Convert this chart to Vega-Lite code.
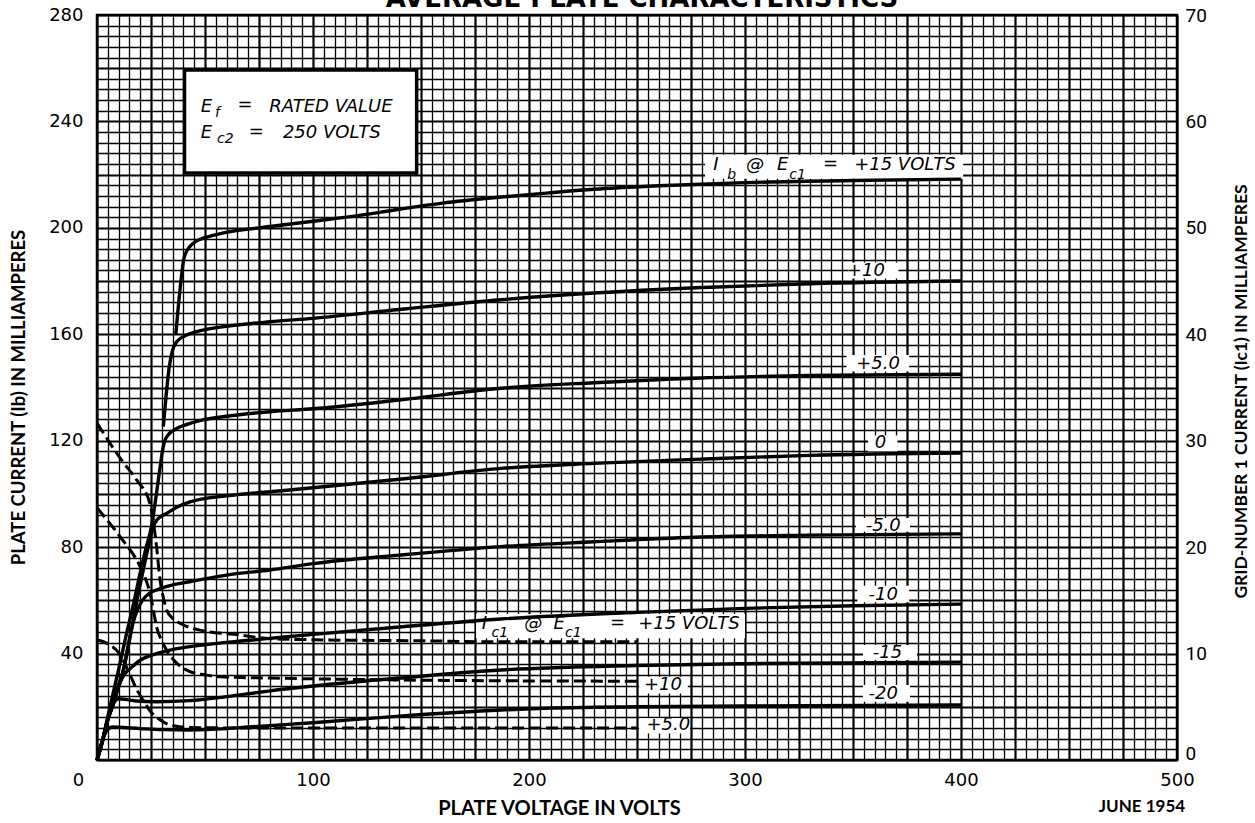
{
  "$schema": "https://vega.github.io/schema/vega-lite/v6.json",
  "width": 1080,
  "height": 745,
  "autosize": {"type": "none"},
  "padding": {"left": 97, "top": 15, "right": 78, "bottom": 63},
  "background": "white",
  "config": {
    "view": {"stroke": "black", "strokeWidth": 2.5},
    "axis": {"labelColor": "black", "titleColor": "black"}
  },
  "datasets": {
    "plate": [
      {"s": "+15", "v": 36.5, "i": 160}, {"s": "+15", "v": 38.4, "i": 176.6}, {"s": "+15", "v": 40.4, "i": 189}, {"s": "+15", "v": 43, "i": 193}, {"s": "+15", "v": 46, "i": 195}, {"s": "+15", "v": 50, "i": 196.3}, {"s": "+15", "v": 58, "i": 198}, {"s": "+15", "v": 70, "i": 199.5}, {"s": "+15", "v": 80, "i": 200.5}, {"s": "+15", "v": 100, "i": 202.5}, {"s": "+15", "v": 120, "i": 204.5}, {"s": "+15", "v": 140, "i": 207}, {"s": "+15", "v": 160, "i": 209.3}, {"s": "+15", "v": 186, "i": 211.5}, {"s": "+15", "v": 210, "i": 213.2}, {"s": "+15", "v": 230, "i": 214.5}, {"s": "+15", "v": 260, "i": 215.8}, {"s": "+15", "v": 300, "i": 217}, {"s": "+15", "v": 350, "i": 217.8}, {"s": "+15", "v": 400, "i": 218.3},
      {"s": "+10", "v": 30.7, "i": 125.3}, {"s": "+10", "v": 32, "i": 137}, {"s": "+10", "v": 33.5, "i": 148}, {"s": "+10", "v": 35, "i": 154}, {"s": "+10", "v": 37, "i": 157.3}, {"s": "+10", "v": 41.5, "i": 159.7}, {"s": "+10", "v": 49, "i": 161.6}, {"s": "+10", "v": 60, "i": 163}, {"s": "+10", "v": 80, "i": 164.7}, {"s": "+10", "v": 100, "i": 166}, {"s": "+10", "v": 140, "i": 169.3}, {"s": "+10", "v": 187, "i": 173}, {"s": "+10", "v": 230, "i": 175.5}, {"s": "+10", "v": 277, "i": 177.5}, {"s": "+10", "v": 330, "i": 179}, {"s": "+10", "v": 400, "i": 180},
      {"s": "+5", "v": 0, "i": 0}, {"s": "+5", "v": 3, "i": 9}, {"s": "+5", "v": 6, "i": 20}, {"s": "+5", "v": 10, "i": 34}, {"s": "+5", "v": 13.7, "i": 47.6}, {"s": "+5", "v": 17, "i": 59}, {"s": "+5", "v": 19.9, "i": 70}, {"s": "+5", "v": 22.5, "i": 79}, {"s": "+5", "v": 25.3, "i": 88}, {"s": "+5", "v": 27.5, "i": 100}, {"s": "+5", "v": 29.2, "i": 110}, {"s": "+5", "v": 30.5, "i": 117}, {"s": "+5", "v": 32.3, "i": 121.5}, {"s": "+5", "v": 36.9, "i": 124.6}, {"s": "+5", "v": 42, "i": 126.2}, {"s": "+5", "v": 49, "i": 127.8}, {"s": "+5", "v": 60, "i": 129.2}, {"s": "+5", "v": 80, "i": 130.9}, {"s": "+5", "v": 100, "i": 132}, {"s": "+5", "v": 140, "i": 135.3}, {"s": "+5", "v": 187, "i": 139.7}, {"s": "+5", "v": 230, "i": 141.8}, {"s": "+5", "v": 277, "i": 143.5}, {"s": "+5", "v": 330, "i": 144.5}, {"s": "+5", "v": 400, "i": 145},
      {"s": "0", "v": 0, "i": 0}, {"s": "0", "v": 2.5, "i": 7}, {"s": "0", "v": 4.5, "i": 13.8}, {"s": "0", "v": 7.6, "i": 21.3}, {"s": "0", "v": 10, "i": 28}, {"s": "0", "v": 12.2, "i": 33.8}, {"s": "0", "v": 14.5, "i": 43}, {"s": "0", "v": 16.8, "i": 52.6}, {"s": "0", "v": 19, "i": 62}, {"s": "0", "v": 21.4, "i": 71.4}, {"s": "0", "v": 24, "i": 81}, {"s": "0", "v": 26, "i": 87.7}, {"s": "0", "v": 28, "i": 90.5}, {"s": "0", "v": 32.3, "i": 92.7}, {"s": "0", "v": 37, "i": 95}, {"s": "0", "v": 43, "i": 97}, {"s": "0", "v": 60, "i": 99.3}, {"s": "0", "v": 80, "i": 100.8}, {"s": "0", "v": 100, "i": 102.3}, {"s": "0", "v": 140, "i": 105.5}, {"s": "0", "v": 187, "i": 109.6}, {"s": "0", "v": 230, "i": 111.5}, {"s": "0", "v": 277, "i": 113}, {"s": "0", "v": 330, "i": 114.5}, {"s": "0", "v": 400, "i": 115.4},
      {"s": "-5", "v": 0, "i": 0}, {"s": "-5", "v": 2.5, "i": 7}, {"s": "-5", "v": 4.5, "i": 13.8}, {"s": "-5", "v": 7.6, "i": 21.3}, {"s": "-5", "v": 10, "i": 28}, {"s": "-5", "v": 12.2, "i": 33.8}, {"s": "-5", "v": 14.5, "i": 43}, {"s": "-5", "v": 16.5, "i": 51}, {"s": "-5", "v": 18.5, "i": 56}, {"s": "-5", "v": 21, "i": 60}, {"s": "-5", "v": 24, "i": 62.5}, {"s": "-5", "v": 29.2, "i": 64.4}, {"s": "-5", "v": 36, "i": 66}, {"s": "-5", "v": 43, "i": 67}, {"s": "-5", "v": 60, "i": 69.5}, {"s": "-5", "v": 80, "i": 71.4}, {"s": "-5", "v": 100, "i": 73.8}, {"s": "-5", "v": 140, "i": 77}, {"s": "-5", "v": 187, "i": 80.2}, {"s": "-5", "v": 230, "i": 82}, {"s": "-5", "v": 277, "i": 83.7}, {"s": "-5", "v": 330, "i": 84.5}, {"s": "-5", "v": 400, "i": 85},
      {"s": "-10", "v": 0, "i": 0}, {"s": "-10", "v": 2.5, "i": 7}, {"s": "-10", "v": 4.5, "i": 13.8}, {"s": "-10", "v": 7.6, "i": 21.3}, {"s": "-10", "v": 10, "i": 27.5}, {"s": "-10", "v": 11.5, "i": 30.5}, {"s": "-10", "v": 13.5, "i": 33}, {"s": "-10", "v": 15.3, "i": 34.3}, {"s": "-10", "v": 20, "i": 37.5}, {"s": "-10", "v": 27.6, "i": 40}, {"s": "-10", "v": 35, "i": 41.5}, {"s": "-10", "v": 43, "i": 42.6}, {"s": "-10", "v": 60, "i": 44.2}, {"s": "-10", "v": 80, "i": 45.7}, {"s": "-10", "v": 100, "i": 47.2}, {"s": "-10", "v": 140, "i": 50}, {"s": "-10", "v": 187, "i": 53}, {"s": "-10", "v": 250, "i": 55.5}, {"s": "-10", "v": 300, "i": 57}, {"s": "-10", "v": 350, "i": 58}, {"s": "-10", "v": 400, "i": 58.6},
      {"s": "-15", "v": 0, "i": 0}, {"s": "-15", "v": 2.5, "i": 7}, {"s": "-15", "v": 4.5, "i": 13.8}, {"s": "-15", "v": 6.5, "i": 19}, {"s": "-15", "v": 8, "i": 21.8}, {"s": "-15", "v": 10, "i": 23}, {"s": "-15", "v": 13, "i": 22.8}, {"s": "-15", "v": 18, "i": 22.2}, {"s": "-15", "v": 27.6, "i": 21.9}, {"s": "-15", "v": 43, "i": 22.3}, {"s": "-15", "v": 60, "i": 23.8}, {"s": "-15", "v": 80, "i": 26}, {"s": "-15", "v": 100, "i": 27.8}, {"s": "-15", "v": 140, "i": 30.8}, {"s": "-15", "v": 187, "i": 33.8}, {"s": "-15", "v": 250, "i": 35.5}, {"s": "-15", "v": 300, "i": 36.2}, {"s": "-15", "v": 400, "i": 36.8},
      {"s": "-20", "v": 0, "i": 0}, {"s": "-20", "v": 2, "i": 6}, {"s": "-20", "v": 3.5, "i": 9.5}, {"s": "-20", "v": 5, "i": 11.5}, {"s": "-20", "v": 7, "i": 12.4}, {"s": "-20", "v": 10, "i": 12.3}, {"s": "-20", "v": 20, "i": 11.8}, {"s": "-20", "v": 30, "i": 11.4}, {"s": "-20", "v": 43, "i": 11.3}, {"s": "-20", "v": 60, "i": 11.8}, {"s": "-20", "v": 70, "i": 12.4}, {"s": "-20", "v": 85, "i": 13.2}, {"s": "-20", "v": 100, "i": 14}, {"s": "-20", "v": 140, "i": 16.5}, {"s": "-20", "v": 187, "i": 18.8}, {"s": "-20", "v": 210, "i": 19.5}, {"s": "-20", "v": 250, "i": 20}, {"s": "-20", "v": 300, "i": 20.3}, {"s": "-20", "v": 400, "i": 20.7}
    ],
    "ic1": [
      {"s": "+15", "v": 0, "ma": 31.65}, {"s": "+15", "v": 12, "ma": 28}, {"s": "+15", "v": 18.4, "ma": 26.3}, {"s": "+15", "v": 24.5, "ma": 24.1}, {"s": "+15", "v": 26, "ma": 22.5}, {"s": "+15", "v": 27.6, "ma": 20}, {"s": "+15", "v": 29.2, "ma": 16.9}, {"s": "+15", "v": 30.8, "ma": 15.2}, {"s": "+15", "v": 32.3, "ma": 14.1}, {"s": "+15", "v": 35, "ma": 13.3}, {"s": "+15", "v": 38.4, "ma": 12.85}, {"s": "+15", "v": 47.7, "ma": 12.2}, {"s": "+15", "v": 66, "ma": 11.75}, {"s": "+15", "v": 80, "ma": 11.4}, {"s": "+15", "v": 100, "ma": 11.3}, {"s": "+15", "v": 150, "ma": 11.2}, {"s": "+15", "v": 187, "ma": 11.1}, {"s": "+15", "v": 250, "ma": 11.1},
      {"s": "+10", "v": 0, "ma": 23.7}, {"s": "+10", "v": 10.6, "ma": 21}, {"s": "+10", "v": 19.9, "ma": 18.2}, {"s": "+10", "v": 22.5, "ma": 17}, {"s": "+10", "v": 24.5, "ma": 15.7}, {"s": "+10", "v": 26, "ma": 14.2}, {"s": "+10", "v": 27.6, "ma": 12.5}, {"s": "+10", "v": 30, "ma": 11.2}, {"s": "+10", "v": 32.3, "ma": 10.3}, {"s": "+10", "v": 36.9, "ma": 9.1}, {"s": "+10", "v": 43, "ma": 8.3}, {"s": "+10", "v": 50, "ma": 8}, {"s": "+10", "v": 58.5, "ma": 7.8}, {"s": "+10", "v": 80, "ma": 7.7}, {"s": "+10", "v": 150, "ma": 7.5}, {"s": "+10", "v": 250, "ma": 7.4},
      {"s": "+5", "v": 0, "ma": 11.3}, {"s": "+5", "v": 6, "ma": 10.8}, {"s": "+5", "v": 10, "ma": 10.1}, {"s": "+5", "v": 13, "ma": 9}, {"s": "+5", "v": 15.3, "ma": 8}, {"s": "+5", "v": 18, "ma": 6.8}, {"s": "+5", "v": 21.4, "ma": 5.6}, {"s": "+5", "v": 25, "ma": 4.5}, {"s": "+5", "v": 29, "ma": 3.8}, {"s": "+5", "v": 33, "ma": 3.35}, {"s": "+5", "v": 43, "ma": 3.05}, {"s": "+5", "v": 80, "ma": 3}, {"s": "+5", "v": 150, "ma": 3}, {"s": "+5", "v": 250, "ma": 3}
    ],
    "boxes": [
      {"v": 281.5, "v2": 401, "i": 218.5, "i2": 227.5},
      {"v": 348, "v2": 371, "i": 181, "i2": 187},
      {"v": 347, "v2": 376, "i": 146, "i2": 152.2},
      {"v": 357, "v2": 370.6, "i": 116, "i2": 122},
      {"v": 351.4, "v2": 376.4, "i": 85.8, "i2": 91},
      {"v": 352, "v2": 376, "i": 59.3, "i2": 65.5},
      {"v": 354.6, "v2": 379.6, "i": 37.6, "i2": 43.2},
      {"v": 354.6, "v2": 376.4, "i": 21.9, "i2": 28.2},
      {"v": 175.5, "v2": 300, "i": 45.8, "i2": 54.9},
      {"v": 251, "v2": 273.5, "i": 25, "i2": 31.3},
      {"v": 251, "v2": 274.5, "i": 10, "i2": 15.7}
    ],
    "note": [
      {"v": 40.5, "v2": 148, "i": 220.6, "i2": 259.3}
    ],
    "labels": [
      {"v": 286.5, "i": 223.6, "t": "I"},
      {"v": 304.6, "i": 223.6, "t": "@"},
      {"v": 317.5, "i": 223.6, "t": "E"},
      {"v": 339.6, "i": 224, "t": "="},
      {"v": 374, "i": 223.6, "t": "+15 VOLTS"},
      {"v": 356, "i": 183.6, "t": "+10"},
      {"v": 361.6, "i": 148.8, "t": "+5.0"},
      {"v": 362.7, "i": 119, "t": "0"},
      {"v": 364, "i": 87.9, "t": "-5.0"},
      {"v": 364, "i": 62.2, "t": "-10"},
      {"v": 366, "i": 40.3, "t": "-15"},
      {"v": 364, "i": 24.8, "t": "-20"},
      {"v": 179.3, "i": 51.3, "t": "I"},
      {"v": 202, "i": 51.3, "t": "@"},
      {"v": 214, "i": 51.3, "t": "E"},
      {"v": 241, "i": 51.6, "t": "="},
      {"v": 274, "i": 51.3, "t": "+15 VOLTS"},
      {"v": 262, "i": 28.2, "t": "+10"},
      {"v": 264.5, "i": 13, "t": "+5.0"},
      {"v": 50.7, "i": 245.5, "t": "E"},
      {"v": 68.5, "i": 246.3, "t": "="},
      {"v": 108.3, "i": 245.5, "t": "RATED VALUE"},
      {"v": 50.7, "i": 235.5, "t": "E"},
      {"v": 73.7, "i": 236.2, "t": "="},
      {"v": 108.7, "i": 235.5, "t": "250 VOLTS"}
    ],
    "subs": [
      {"v": 293.8, "i": 219.9, "t": "b"},
      {"v": 324.3, "i": 219.9, "t": "c1"},
      {"v": 186.5, "i": 47.6, "t": "c1"},
      {"v": 220.5, "i": 47.6, "t": "c1"},
      {"v": 55.8, "i": 243.2, "t": "f"},
      {"v": 59.4, "i": 233.3, "t": "c2"}
    ],
    "stamp": [
      {"v": 483.8, "i": -17.7, "t": "JUNE 1954"}
    ],
    "heading": [
      {"v": 252.3, "i": 283, "t": "AVERAGE PLATE CHARACTERISTICS"}
    ]
  },
  "encoding": {
    "x": {
      "field": "v",
      "type": "quantitative",
      "scale": {"domain": [0, 500], "nice": false},
      "axis": {
        "title": "PLATE VOLTAGE IN VOLTS",
        "values": [0,5,10,15,20,25,30,35,40,45,50,55,60,65,70,75,80,85,90,95,100,105,110,115,120,125,130,135,140,145,150,155,160,165,170,175,180,185,190,195,200,205,210,215,220,225,230,235,240,245,250,255,260,265,270,275,280,285,290,295,300,305,310,315,320,325,330,335,340,345,350,355,360,365,370,375,380,385,390,395,400,405,410,415,420,425,430,435,440,445,450,455,460,465,470,475,480,485,490,495,500],
        "labelExpr": "datum.value % 100 === 0 ? datum.label : ''",
        "grid": true,
        "gridColor": "black",
        "gridOpacity": 1,
        "gridWidth": {"condition": {"test": "datum.value % 25 === 0", "value": 2.2}, "value": 1.3},
        "ticks": false,
        "domain": false,
        "labelFont": "DejaVu Sans",
        "labelFontSize": 18,
        "labelPadding": 11,
        "labelFlush": false,
        "labelOverlap": false,
        "labelBound": false,
        "labelOffset": {"condition": {"test": "datum.value === 0", "value": -19}, "value": 0},
        "titleFont": "Lato",
        "titleFontSize": 20,
        "titleFontWeight": "bold",
        "titleX": 462,
        "titleY": 48,
        "titleAlign": "center",
        "titleBaseline": "middle"
      }
    }
  },
  "layer": [
    {
      "encoding": {
        "y": {
          "field": "i",
          "type": "quantitative",
          "scale": {"domain": [0, 280], "nice": false},
          "axis": {
            "title": "PLATE CURRENT (Ib) IN MILLIAMPERES",
            "values": [0,4,8,12,16,20,24,28,32,36,40,44,48,52,56,60,64,68,72,76,80,84,88,92,96,100,104,108,112,116,120,124,128,132,136,140,144,148,152,156,160,164,168,172,176,180,184,188,192,196,200,204,208,212,216,220,224,228,232,236,240,244,248,252,256,260,264,268,272,276,280],
            "labelExpr": "datum.value % 40 === 0 && datum.value > 0 ? datum.label : ''",
            "grid": true,
            "gridColor": "black",
            "gridOpacity": 1,
            "gridWidth": {"condition": {"test": "datum.value % 20 === 0", "value": 2.2}, "value": 1.3},
            "ticks": false,
            "domain": false,
            "labelFont": "DejaVu Sans",
            "labelFontSize": 18,
            "labelPadding": 14,
            "labelFlush": false,
            "labelOverlap": false,
            "labelBound": false,
            "titleFont": "Lato",
            "titleFontSize": 18.5,
            "titleFontWeight": "bold",
            "titleAngle": 270,
            "titleX": -79,
            "titleY": 382,
            "titleAlign": "center",
            "titleBaseline": "middle"
          }
        }
      },
      "layer": [
        {
          "data": {"name": "boxes"},
          "mark": {"type": "rect", "fill": "white", "stroke": null},
          "encoding": {"x2": {"field": "v2"}, "y2": {"field": "i2"}}
        },
        {
          "data": {"name": "note"},
          "mark": {"type": "rect", "fill": "white", "stroke": "black", "strokeWidth": 3.5},
          "encoding": {"x2": {"field": "v2"}, "y2": {"field": "i2"}}
        },
        {
          "data": {"name": "plate"},
          "mark": {"type": "line", "color": "black", "strokeWidth": 3.4, "interpolate": "monotone"},
          "encoding": {"detail": {"field": "s", "type": "nominal"}}
        },
        {
          "data": {"name": "labels"},
          "mark": {"type": "text", "font": "DejaVu Sans", "fontStyle": "italic", "fontSize": 18, "color": "black", "align": "center", "baseline": "middle"},
          "encoding": {"text": {"field": "t"}}
        },
        {
          "data": {"name": "subs"},
          "mark": {"type": "text", "font": "DejaVu Sans", "fontStyle": "italic", "fontSize": 14, "color": "black", "align": "center", "baseline": "middle"},
          "encoding": {"text": {"field": "t"}}
        },
        {
          "data": {"name": "stamp"},
          "mark": {"type": "text", "font": "Lato", "fontWeight": "bold", "fontSize": 17, "color": "black", "align": "center", "baseline": "middle"},
          "encoding": {"text": {"field": "t"}}
        },
        {
          "data": {"name": "heading"},
          "mark": {"type": "text", "font": "DejaVu Sans", "fontWeight": "bold", "fontSize": 26, "color": "black", "align": "center", "baseline": "alphabetic"},
          "encoding": {"text": {"field": "t"}}
        }
      ]
    },
    {
      "data": {"name": "ic1"},
      "mark": {"type": "line", "color": "black", "strokeWidth": 3, "strokeDash": [12, 5], "interpolate": "monotone"},
      "encoding": {
        "detail": {"field": "s", "type": "nominal"},
        "y": {
          "field": "ma",
          "type": "quantitative",
          "scale": {"domain": [0, 70], "nice": false},
          "axis": {
            "orient": "right",
            "title": "GRID-NUMBER 1 CURRENT (Ic1) IN MILLIAMPERES",
            "values": [0, 10, 20, 30, 40, 50, 60, 70],
            "grid": false,
            "ticks": false,
            "domain": false,
            "labelFont": "Roboto",
            "labelFontSize": 19,
            "labelPadding": 8,
            "labelFlush": false,
            "labelOverlap": false,
            "labelBound": false,
            "labelOffset": {"condition": {"test": "datum.value === 0", "value": -7}, "value": 0},
            "titleFont": "Lato",
            "titleFontSize": 17.5,
            "titleFontWeight": "bold",
            "titleAngle": 270,
            "titleX": 64,
            "titleY": 376,
            "titleAlign": "center",
            "titleBaseline": "middle"
          }
        }
      }
    }
  ],
  "resolve": {"scale": {"y": "independent"}, "axis": {"y": "independent"}}
}
